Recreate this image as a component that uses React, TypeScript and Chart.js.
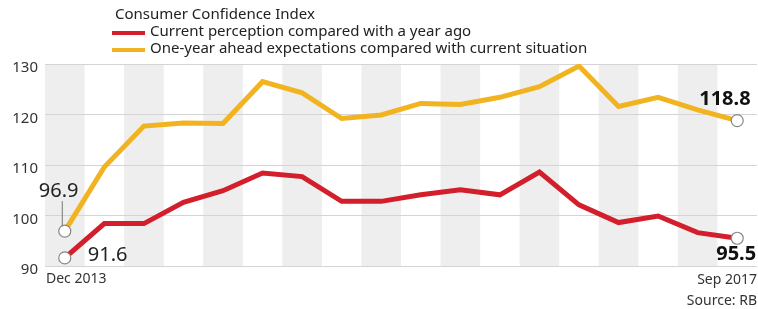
import React, { useEffect, useRef } from "react";
import { Chart, registerables } from "chart.js";

Chart.register(...registerables);

// ---- data ----
const periods: string[] = [
  "Dec 2013", "", "", "", "", "", "", "", "", "", "", "", "", "", "", "", "", "Sep 2017",
];
const currentPerception: number[] = [
  91.6, 98.4, 98.4, 102.6, 104.9, 108.4, 107.7, 102.8, 102.8, 104.1, 105.1, 104.1, 108.6, 102.1, 98.6, 99.9, 96.6, 95.5,
];
const oneYearAhead: number[] = [
  96.9, 109.6, 117.7, 118.3, 118.2, 126.5, 124.3, 119.2, 119.9, 122.2, 122.0, 123.4, 125.5, 129.6, 121.6, 123.4, 120.9, 118.8,
];
const yTicks: number[] = [90, 100, 110, 120, 130];
const chartTitle = "Consumer Confidence Index";
const seriesNames: string[] = [
  "Current perception compared with a year ago",
  "One-year ahead expectations compared with current situation",
];
const sourceText = "Source: RB";

const RED = "#d21f2b";
const YELLOW = "#f2b320";
const FONT = "'Noto Sans', 'Open Sans', sans-serif";

export default function App() {
  const ref = useRef<HTMLCanvasElement | null>(null);

  useEffect(() => {
    if (!ref.current) return;
    const last = periods.length - 1;

    const decorPlugin = {
      id: "decor",
      beforeDraw(chart: any) {
        const { ctx, chartArea, scales } = chart;
        const x = scales.x;
        const step = x.getPixelForValue(1) - x.getPixelForValue(0);
        ctx.save();
        ctx.fillStyle = "#eeeeee";
        for (let i = 0; i < periods.length; i += 2) {
          const cx = x.getPixelForValue(i);
          ctx.fillRect(cx - step / 2, chartArea.top, step, chartArea.bottom - chartArea.top);
        }
        ctx.restore();
      },
      afterDraw(chart: any) {
        const { ctx, chartArea, scales } = chart;
        const x = scales.x;
        const y = scales.y;
        ctx.save();
        ctx.textBaseline = "middle";

        // legend / title
        ctx.fillStyle = "#222";
        ctx.font = `15px ${FONT}`;
        ctx.textAlign = "left";
        ctx.fillText(chartTitle, 115, 15);
        const colors = [RED, YELLOW];
        const ys = [32, 49];
        seriesNames.forEach((n, i) => {
          ctx.strokeStyle = colors[i];
          ctx.lineWidth = 4;
          ctx.beginPath();
          ctx.moveTo(112, ys[i] + 1);
          ctx.lineTo(145, ys[i] + 1);
          ctx.stroke();
          ctx.fillStyle = "#222";
          ctx.font = `15px ${FONT}`;
          ctx.fillText(n, 150, ys[i]);
        });

        // value annotations
        const x0 = x.getPixelForValue(0);
        const xl = x.getPixelForValue(last);
        const yStart = y.getPixelForValue(oneYearAhead[0]);
        ctx.strokeStyle = "#777";
        ctx.lineWidth = 1;
        ctx.beginPath();
        ctx.moveTo(x0 - 2.5, yStart - 30);
        ctx.lineTo(x0 - 2.5, yStart - 5);
        ctx.stroke();

        ctx.fillStyle = "#222";
        ctx.font = `20px ${FONT}`;
        ctx.textAlign = "left";
        ctx.fillText(oneYearAhead[0].toFixed(1), x0 - 26, yStart - 40);
        ctx.fillText(currentPerception[0].toFixed(1), x0 + 23, y.getPixelForValue(currentPerception[0]) - 3);

        ctx.font = `bold 20px ${FONT}`;
        ctx.fillStyle = "#111";
        ctx.fillText(oneYearAhead[last].toFixed(1), xl - 38, y.getPixelForValue(oneYearAhead[last]) - 21);
        ctx.fillText(currentPerception[last].toFixed(1), xl - 21, y.getPixelForValue(currentPerception[last]) + 16);

        // x labels
        ctx.font = `14px ${FONT}`;
        ctx.fillStyle = "#333";
        ctx.textAlign = "left";
        ctx.fillText(periods[0], chartArea.left + 1, chartArea.bottom + 13);
        ctx.textAlign = "right";
        ctx.fillText(periods[last], chartArea.right, chartArea.bottom + 14);
        ctx.fillText(sourceText, chartArea.right, chartArea.bottom + 35);
        ctx.restore();
      },
    };

    const endRadius = (c: any) => (c.dataIndex === 0 || c.dataIndex === last ? 6 : 0);

    const chart = new Chart(ref.current, {
      type: "line",
      data: {
        labels: periods,
        datasets: [
          {
            label: seriesNames[0],
            data: currentPerception,
            borderColor: RED,
            borderWidth: 5,
            tension: 0,
            pointRadius: endRadius,
            pointBackgroundColor: "#ffffff",
            pointBorderColor: "#888",
            pointBorderWidth: 1.2,
          },
          {
            label: seriesNames[1],
            data: oneYearAhead,
            borderColor: YELLOW,
            borderWidth: 5,
            tension: 0,
            pointRadius: endRadius,
            pointBackgroundColor: "#ffffff",
            pointBorderColor: "#888",
            pointBorderWidth: 1.2,
          },
        ],
      },
      options: {
        responsive: false,
        animation: false,
        layout: { autoPadding: false, padding: { top: 64, bottom: 43, left: 0, right: 1 } },
        plugins: {
          legend: { display: false },
          tooltip: { enabled: false },
        },
        scales: {
          x: {
            display: false,
            offset: true,
            grid: { display: false },
          },
          y: {
            min: yTicks[0],
            max: yTicks[yTicks.length - 1],
            afterFit: (s: any) => {
              s.width = 45;
            },
            afterBuildTicks: (s: any) => {
              s.ticks = yTicks.map((v) => ({ value: v }));
            },
            border: { display: false },
            grid: { color: "#d4d4d4", lineWidth: 1, drawTicks: false },
            ticks: {
              padding: 7,
              labelOffset: 4,
              color: "#333",
              font: { size: 15, family: FONT },
            },
          },
        },
      },
      plugins: [decorPlugin],
    });

    return () => chart.destroy();
  }, []);

  return (
    <div style={{ position: "fixed", left: 0, top: 0, width: 758, height: 309, background: "#fff" }}>
      <canvas ref={ref} width={758} height={309} />
    </div>
  );
}
